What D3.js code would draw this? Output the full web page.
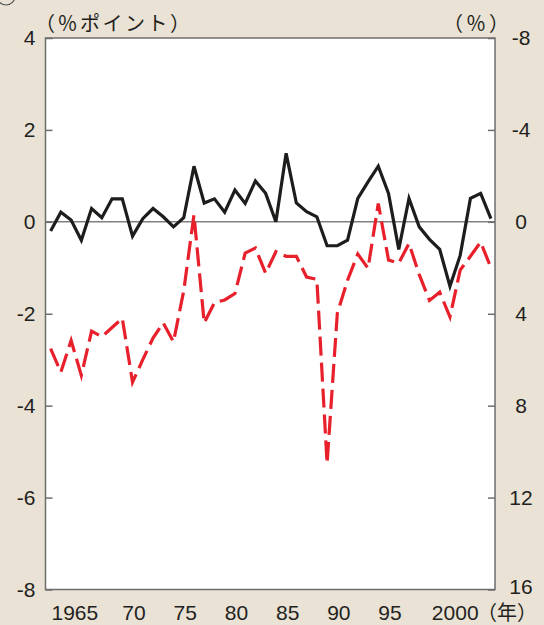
<!DOCTYPE html>
<html><head><meta charset="utf-8">
<script src="https://cdn.jsdelivr.net/npm/d3@7"></script>
<style>
html,body{margin:0;padding:0;background:#e9e2d5;}
svg{display:block;}
text{font-family:"Liberation Sans","Noto Sans CJK JP",sans-serif;fill:#231f20;}
text.cjk{font-family:"Noto Sans CJK JP",sans-serif;}
</style></head>
<body>
<script>
const years = d3.range(1962, 2006);
const blackSeries = [-0.2,0.21,0.04,-0.4,0.29,0.09,0.5,0.5,-0.31,0.07,0.29,0.11,-0.11,0.09,1.21,
 0.41,0.5,0.21,0.69,0.4,0.89,0.62,0.0,1.49,0.41,0.22,0.11,-0.52,-0.52,-0.4,
 0.51,0.87,1.21,0.62,-0.6,0.51,-0.11,-0.38,-0.6,-1.4,-0.73,0.51,0.62,0.07];
// red series on the right axis (%), inverted
const redSeries = [5.52,6.54,5.16,6.68,4.76,5.0,4.6,4.2,6.98,6.0,5.06,4.4,5.22,3.0,-0.3,
 4.4,3.52,3.4,3.12,1.36,1.14,2.24,1.3,1.5,1.5,2.4,2.5,10.52,3.98,2.54,
 1.4,2.02,-0.8,1.66,1.8,0.94,2.3,3.42,3.06,4.14,2.1,1.5,0.88,2.0];
const leftTicks = [4,2,0,-2,-4,-6,-8];
const rightTicks = [-8,-4,0,4,8,12,16];
const xTicks = [1965,1970,1975,1980,1985,1990,1995,2000];
const xTickLabels = ["1965","70","75","80","85","90","95","2000"];

const W=544,H=625;
const L=45.5,R=495,T=38,B=589.5;
const svg=d3.select("body").append("svg").attr("width",W).attr("height",H);

const x=d3.scaleLinear().domain([1961.5,2005.4]).range([L,R]);
const yL=d3.scaleLinear().domain([-8,4]).range([B,T]);
const yR=d3.scaleLinear().domain([16,-8]).range([B,T]);

// partial circled number at the top-left corner
svg.append("circle").attr("cx",6).attr("cy",-4).attr("r",9).attr("fill","none").attr("stroke","#555").attr("stroke-width",1.2);

svg.append("rect").attr("x",L).attr("y",T).attr("width",R-L).attr("height",B-T).attr("fill","#fff");

// zero line
svg.append("line").attr("x1",L).attr("x2",R).attr("y1",yL(0)).attr("y2",yL(0)).attr("stroke","#808080").attr("stroke-width",1.5);

// frame
svg.append("rect").attr("x",L).attr("y",T).attr("width",R-L).attr("height",B-T).attr("fill","none").attr("stroke","#6e6e6e").attr("stroke-width",1.5);

const FS=21;
// left axis
const gL=svg.append("g").attr("transform",`translate(${L},0)`)
 .call(d3.axisLeft(yL).tickValues(leftTicks).tickFormat(d=>d).tickSizeInner(-7).tickSizeOuter(0));
gL.select(".domain").remove();
gL.selectAll(".tick line").attr("stroke","#6e6e6e").attr("stroke-width",1.5);
gL.selectAll(".tick text").attr("x",-10).attr("font-size",FS).attr("fill","#231f20").attr("text-anchor","end");

// right axis
const gR=svg.append("g").attr("transform",`translate(${R},0)`)
 .call(d3.axisRight(yR).tickValues(rightTicks).tickFormat(d=>d).tickSizeInner(-7).tickSizeOuter(0));
gR.select(".domain").remove();
gR.selectAll(".tick line").attr("stroke","#6e6e6e").attr("stroke-width",1.5);
gR.selectAll(".tick text").attr("x",26).attr("font-size",FS).attr("fill","#231f20").attr("text-anchor","middle")
 .attr("dy",d=> d===16? "0.2em" : "0.32em");

// bottom axis (labels only)
const gB=svg.append("g").attr("transform",`translate(0,${B})`)
 .call(d3.axisBottom(x).tickValues(xTicks).tickFormat((d,i)=>xTickLabels[i]).tickSize(0));
gB.select(".domain").remove();
gB.selectAll(".tick text").attr("y",16).attr("font-size",FS).attr("fill","#231f20")
 .attr("dx",(d)=> d===1965? -7 : (d===2000? 15 : 1));

// unit labels
svg.append("text").attr("class","cjk").attr("x",35).attr("y",31).attr("font-size",20).attr("letter-spacing",2.5).text("（％ポイント）");
svg.append("text").attr("class","cjk").attr("x",443).attr("y",31).attr("font-size",20).attr("letter-spacing",3).text("（％）");
svg.append("text").attr("class","cjk").attr("x",477).attr("y",619.5).attr("font-size",20).text("（年）");

// lines
const lineL=d3.line().x((d,i)=>x(years[i])).y(d=>yL(d));
const lineR=d3.line().x((d,i)=>x(years[i])).y(d=>yR(d));

svg.append("path").datum(redSeries).attr("d",lineR).attr("fill","none")
 .attr("stroke","#e8202b").attr("stroke-width",3.2).attr("stroke-dasharray","19,7").attr("stroke-linejoin","miter");
svg.append("path").datum(blackSeries).attr("d",lineL).attr("fill","none")
 .attr("stroke","#1d1d1b").attr("stroke-width",3.2).attr("stroke-linejoin","miter");
</script>
</body></html>
